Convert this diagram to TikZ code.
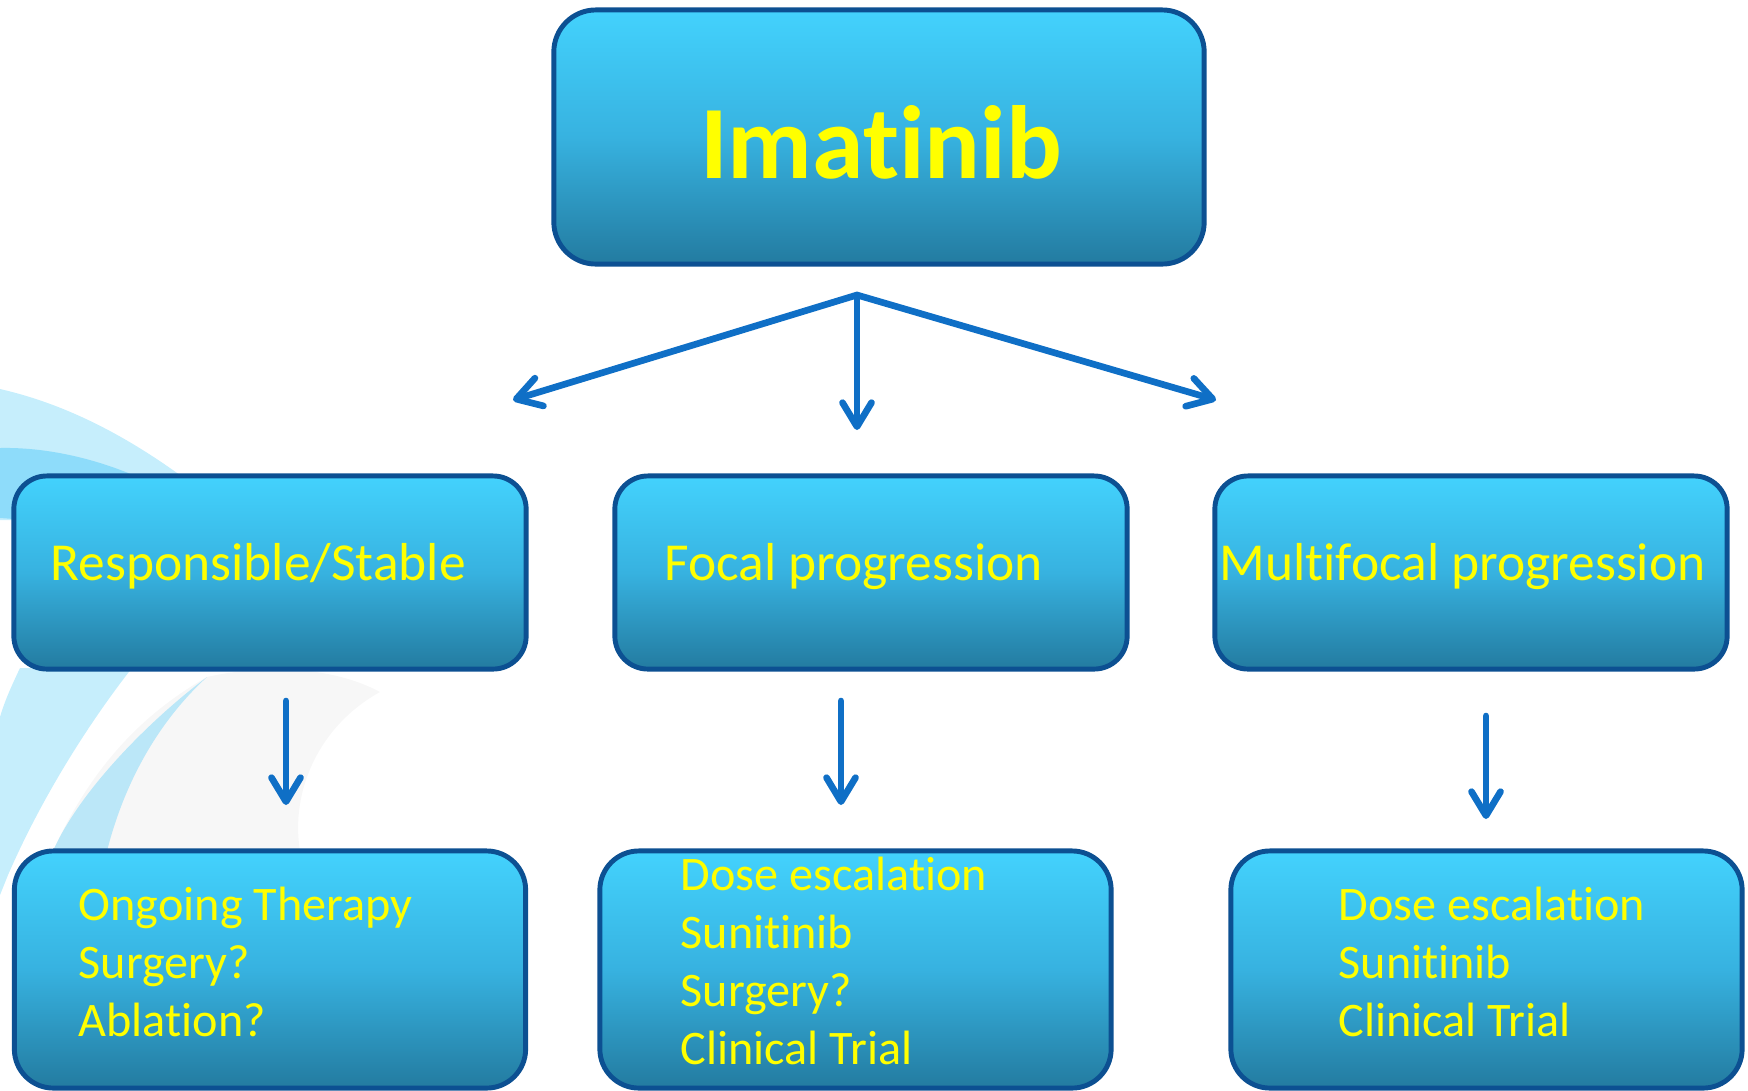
\documentclass[tikz,border=0pt]{standalone}
\usepackage{fontspec}
\setmainfont[Ligatures=NoCommon, Contextuals=NoAlternate]{Carlito}
\usetikzlibrary{arrows.meta}

\definecolor{boxedge}{HTML}{0C5092}
\definecolor{boxtop}{HTML}{43D2FD}
\definecolor{boxmid}{HTML}{37B2E0}
\definecolor{boxbot}{HTML}{237BA0}
\definecolor{arrowblue}{HTML}{0F6FC6}
\definecolor{txtyellow}{HTML}{FFFF00}
\definecolor{swishlight}{HTML}{C6EEFC}
\definecolor{swishdark}{HTML}{8EDCFA}
\definecolor{swishmid}{HTML}{BBE7F8}
\definecolor{swishgrey}{HTML}{F7F7F7}

\begin{document}
\begin{tikzpicture}[x=0.01cm, y=-0.01cm,
    box/.style={draw=boxedge, line width=1.4pt, rounded corners=#1,
        top color=boxtop, bottom color=boxbot, middle color=boxmid,
        minimum width=5.12cm, inner sep=0pt},
    box/.default=0.33cm,
    titletext/.style={anchor=base, inner sep=0pt, text=txtyellow,
        font=\bfseries\fontsize{29.6}{35}\selectfont},
    midtext/.style={anchor=base west, inner sep=0pt, text=txtyellow,
        font=\fontsize{15.2}{18.2}\selectfont},
    bottext/.style={anchor=north west, inner sep=0pt, align=left, text=txtyellow,
        font=\fontsize{13.7}{16.5}\selectfont},
    arr/.style={draw=arrowblue, line width=1.9pt, line cap=round,
        -{Straight Barb[round, length=2.4mm, width=2.9mm]}}]
    \useasboundingbox (0,0) rectangle (1748,1090);

    % background swirls
    \fill[swishlight] (0,389) .. controls (70,405) and (135,440) .. (200,490) -- (14,520) -- (0,520) -- cycle;
    \fill[swishdark] (0,448) .. controls (45,447) and (95,458) .. (140,478) -- (14,519) -- (0,518) -- cycle;
    \fill[swishlight] (20,668) -- (132,668) .. controls (95,715) and (45,790) .. (8,875) -- (0,895) -- (0,717) .. controls (5,700) and (12,685) .. (20,668) -- cycle;
    \fill[swishgrey] (53,851) .. controls (90,770) and (140,715) .. (207,677) .. controls (260,665) and (330,665) .. (380,692) .. controls (320,725) and (290,790) .. (300,851) -- cycle;
    \fill[swishmid] (207,677) .. controls (150,720) and (80,790) .. (53,851) -- (107,851) .. controls (125,780) and (160,720) .. (207,677) -- cycle;

    % boxes
    \node[box=0.42cm, minimum width=6.5cm, minimum height=2.54cm] (imatinib) at (879,137) {};
    \node[box, minimum height=1.93cm] (stable) at (270,572.5) {};
    \node[box, minimum height=1.93cm] (focal) at (871,572.5) {};
    \node[box, minimum height=1.93cm] (multi) at (1471,572.5) {};
    \node[box=0.39cm, minimum width=5.11cm, minimum height=2.37cm] (ongoing) at (270,969.5) {};
    \node[box=0.39cm, minimum width=5.11cm, minimum height=2.37cm] (focalopts) at (855.5,969.5) {};
    \node[box=0.39cm, minimum width=5.11cm, minimum height=2.37cm] (multiopts) at (1486.5,969.5) {};

    % texts
    \node[titletext] (imatinib-label) at (881,178) {Imatinib};
    \node[midtext] (stable-label) at (50,580) {Responsible/Stable};
    \node[midtext] (focal-label) at (664,580) {Focal progression};
    \node[midtext] (multi-label) at (1219,580) {Multifocal progression};
    \node[bottext] (ongoing-label) at (78,879) {\strut Ongoing Therapy\\\strut Surgery?\\\strut Ablation?};
    \node[bottext] (focalopts-label) at (680,849) {\strut Dose escalation\\\strut Sunitinib\\\strut Surgery?\\\strut Clinical Trial};
    \node[bottext] (multiopts-label) at (1338,879) {\strut Dose escalation\\\strut Sunitinib\\\strut Clinical Trial};

    % arrows
    \coordinate (fork) at (857,295);
    \coordinate (stable-in) at (513,400);
    \coordinate (focal-in) at (857,430);
    \coordinate (multi-in) at (1216,400);
    \coordinate (stable-out) at (286,701);
    \coordinate (ongoing-in) at (286,805);
    \coordinate (focal-out) at (841,701);
    \coordinate (focalopts-in) at (841,805);
    \coordinate (multi-out) at (1486,716);
    \coordinate (multiopts-in) at (1486,819);
    \draw[arr] (fork) -- (stable-in);
    \draw[arr] (fork) -- (focal-in);
    \draw[arr] (fork) -- (multi-in);
    \draw[arr] (stable-out) -- (ongoing-in);
    \draw[arr] (focal-out) -- (focalopts-in);
    \draw[arr] (multi-out) -- (multiopts-in);
\end{tikzpicture}
\end{document}
